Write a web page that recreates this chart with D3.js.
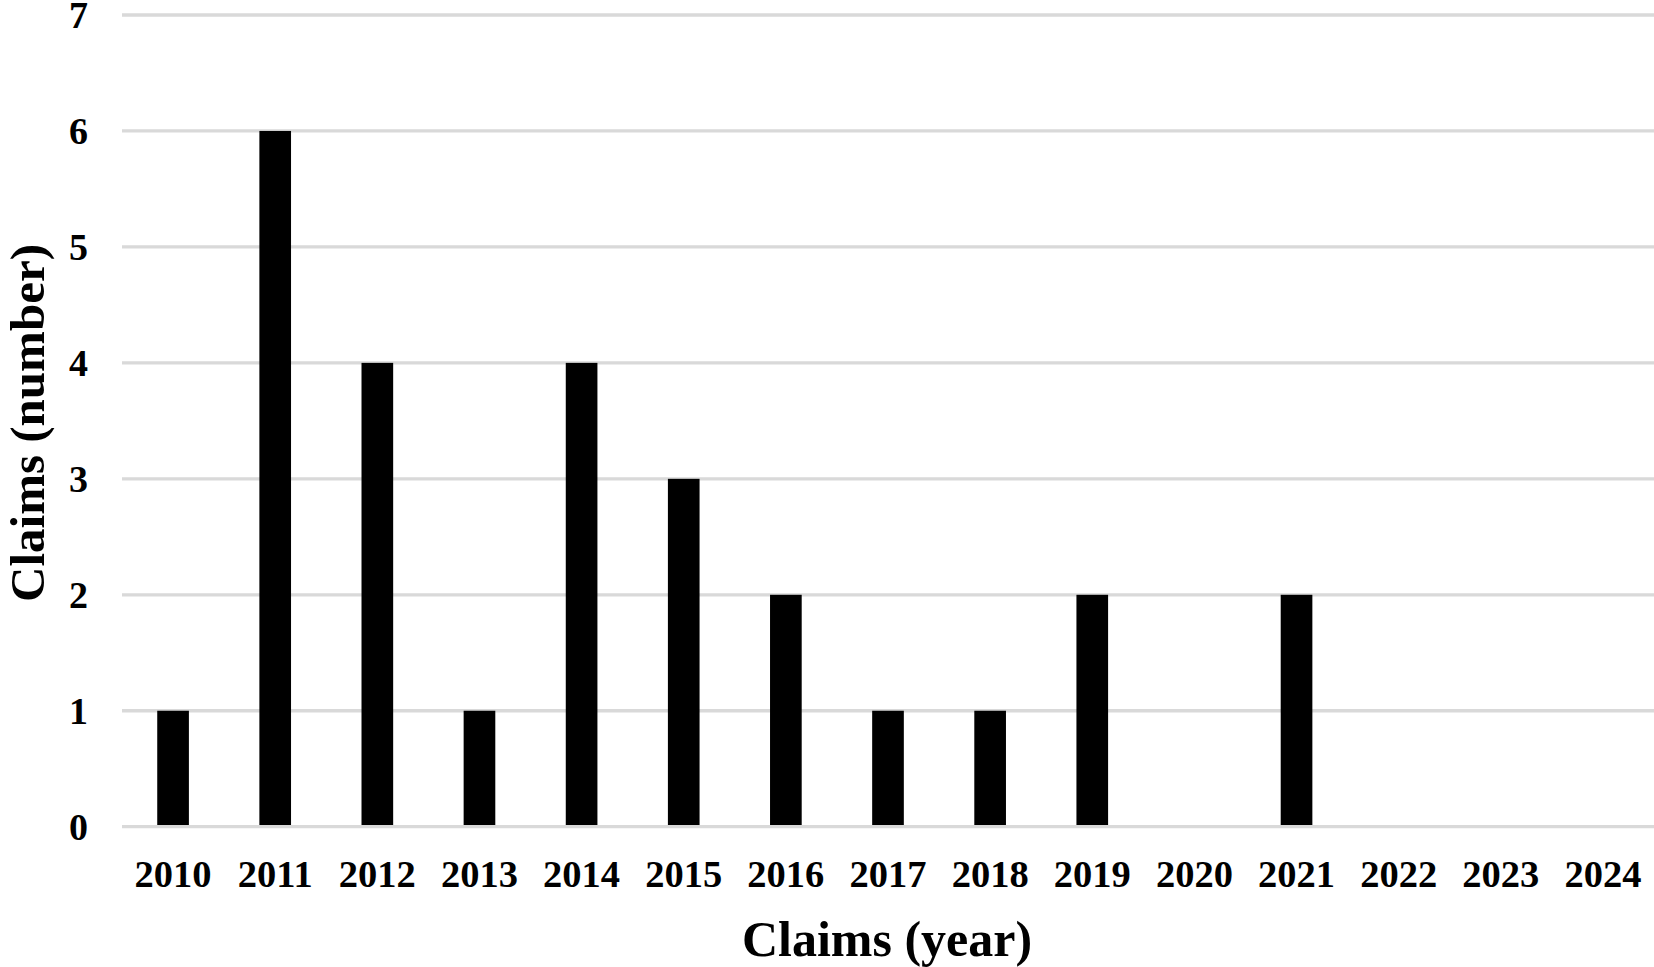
<!DOCTYPE html>
<html>
<head>
<meta charset="utf-8">
<script src="https://cdn.jsdelivr.net/npm/d3@7"></script>
<style>
  html, body { margin: 0; padding: 0; background: #fff; }
  svg { display: block; }
  text { font-family: "Liberation Serif", "Times New Roman", serif; font-weight: bold; fill: #000; }
</style>
</head>
<body>
<svg id="chart" width="1654" height="967"></svg>
<script>
const years = ["2010","2011","2012","2013","2014","2015","2016","2017","2018","2019","2020","2021","2022","2023","2024"];
const claims = [1, 6, 4, 1, 4, 3, 2, 1, 1, 2, 0, 2, 0, 0, 0];
const yTicks = [0, 1, 2, 3, 4, 5, 6, 7];
const xTitle = "Claims (year)";
const yTitle = "Claims (number)";

(function () {
const svg = d3.select("#chart");
const plotLeft = 122, plotRight = 1654, plotTop = 15, plotBottom = 826.7;

const x = d3.scaleBand().domain(years).range([plotLeft, plotRight]).paddingInner(0.69).paddingOuter(0.345);
const y = d3.scaleLinear().domain([0, 7]).range([plotBottom, plotTop]);

// gridlines
svg.append("g").selectAll("line").data(yTicks).join("line")
  .attr("x1", plotLeft).attr("x2", plotRight)
  .attr("y1", d => y(d)).attr("y2", d => y(d))
  .attr("stroke", "#d9d9d9").attr("stroke-width", 3.3);

// bars
svg.append("g").selectAll("rect").data(years).join("rect")
  .attr("x", d => x(d))
  .attr("width", x.bandwidth())
  .attr("y", (d, i) => y(claims[i]))
  .attr("height", (d, i) => Math.max(0, y(0) - 1.7 - y(claims[i])))
  .attr("fill", "#000");

// y axis
const yAxis = d3.axisLeft(y).tickValues(yTicks).tickSize(0).tickPadding(0).tickFormat(d3.format("d"));
const gy = svg.append("g").attr("transform", "translate(88,0)").call(yAxis);
gy.select(".domain").remove();
gy.selectAll("text").attr("font-size", 38).attr("font-family", "Liberation Serif").attr("font-weight", "bold").attr("fill", "#000").attr("dy", "0.34em");

// x axis
const xAxis = d3.axisBottom(x).tickSize(0).tickPadding(0);
const gx = svg.append("g").attr("transform", `translate(0,${plotBottom})`).call(xAxis);
gx.select(".domain").remove();
gx.selectAll("text").attr("font-size", 38.5).attr("font-family", "Liberation Serif").attr("font-weight", "bold").attr("fill", "#000").attr("dy", null).attr("y", 60);

// axis titles
svg.append("text").attr("x", 887).attr("y", 956).attr("text-anchor", "middle").attr("font-size", 50).text(xTitle);
svg.append("text").attr("transform", "translate(44,423) rotate(-90)").attr("text-anchor", "middle").attr("font-size", 49).text(yTitle);
})();
</script>
</body>
</html>
